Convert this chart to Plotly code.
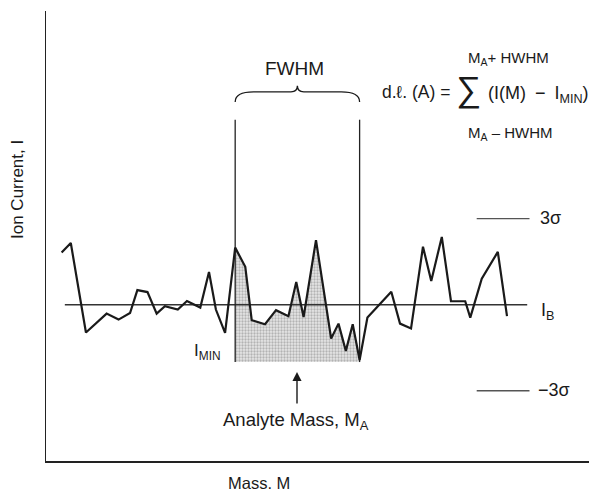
import plotly.graph_objects as go

# ---------------- data (mass units, ion current in units of sigma) ----------------
mass = [3.4, 5.4, 8.7, 13.2, 15.8, 18.3, 19.9, 22.1, 24.1, 25.9, 28.7, 30.7, 33.6, 35.5,
        37.0, 39.0, 41.2, 43.4, 44.8, 47.7, 50.1, 52.8, 54.5, 56.1, 58.8, 62.1, 63.7, 65.3,
        66.8, 68.3, 70.0, 72.8, 75.2, 77.1, 79.5, 82.1, 83.9, 86.2, 88.2, 91.3, 92.4, 94.9,
        98.4, 100.4]
current = [1.82, 2.15, -0.97, -0.31, -0.52, -0.29, 0.51, 0.44, -0.31, -0.05, -0.17, 0.13,
           -0.10, 1.14, -0.17, -0.98, 1.99, 1.32, -0.54, -0.68, -0.19, -0.40, 0.79, -0.43,
           2.25, -1.18, -0.66, -1.61, -0.68, -1.93, -0.45, 0.04, 0.45, -0.66, -0.83, 2.02,
           0.83, 2.36, 0.12, 0.12, -0.45, 0.91, 1.84, -0.40]

window_start = 16   # index of M_A - HWHM
window_end = 29     # index of M_A + HWHM
I_B = 0.0
sigma_levels = [3.0, -3.0]
baseline_extent = [4.1, 104.8]
sigma_extent = [93.8, 105.3]
marker_top = 6.45
x_range = [0, 120.0]
y_range = [-5.45, 10.24]

# ---------------- derived ----------------
wx = mass[window_start:window_end + 1]
wy = current[window_start:window_end + 1]
I_MIN = min(wy) - 0.07
m_lo, m_hi = wx[0], wx[-1]

OFF = 8                      # page body margin
PAGE_W, PAGE_H = 597, 492
W, H = PAGE_W - OFF, PAGE_H - OFF
P_LEFT, P_TOP, P_RIGHT, P_BOTTOM = 46, 11, 597, 461   # plot area in page pixels
ML = P_LEFT - OFF
MT = P_TOP - OFF
MR = PAGE_W - P_RIGHT
MB = PAGE_H - P_BOTTOM
PW, PH = P_RIGHT - P_LEFT, P_BOTTOM - P_TOP

def px(x):
    return (x - P_LEFT) / PW

def py(y):
    return (P_BOTTOM - y) / PH

FONT = "Liberation Sans, Arial, sans-serif"
INK = "#1a1a1a"

fig = go.Figure()

# shaded area
fig.add_trace(go.Scatter(
    x=wx + [m_hi, m_lo], y=wy + [I_MIN, I_MIN], mode="none", fill="toself",
    fillcolor="rgb(205,205,205)",
    fillpattern=dict(shape=".", fgcolor="#808080", bgcolor="#e6e6e6", size=3, solidity=0.45),
    hoverinfo="skip", showlegend=False))

# baseline I_B
fig.add_trace(go.Scatter(x=baseline_extent, y=[I_B, I_B], mode="lines",
                         line=dict(color="#333333", width=1.5), showlegend=False))

# sigma marks
for lv in sigma_levels:
    fig.add_trace(go.Scatter(x=sigma_extent, y=[lv, lv], mode="lines",
                             line=dict(color="#555555", width=1.4), showlegend=False))

# window verticals
for mx in (m_lo, m_hi):
    fig.add_trace(go.Scatter(x=[mx, mx], y=[I_MIN, marker_top], mode="lines",
                             line=dict(color="#222222", width=1.3), showlegend=False))

# noise trace
fig.add_trace(go.Scatter(x=mass, y=current, mode="lines",
                         line=dict(color=INK, width=2.2), showlegend=False))

# brace over the window
y_end, y_mid, y_top = marker_top + 0.62, marker_top + 0.97, marker_top + 1.18
xm = (m_lo + m_hi) / 2
d = 1.4
brace = (f"M {m_lo},{y_end} Q {m_lo},{y_mid} {m_lo + 4},{y_mid} "
         f"L {xm - d},{y_mid} Q {xm},{y_mid} {xm},{y_top} "
         f"Q {xm},{y_mid} {xm + d},{y_mid} L {m_hi - 4},{y_mid} "
         f"Q {m_hi},{y_mid} {m_hi},{y_end}")
fig.add_shape(type="path", path=brace, xref="x", yref="y",
              line=dict(color=INK, width=1.3))

ann = []

def text(x, y, s, size=16, xanchor="center", yanchor="middle", **kw):
    ann.append(dict(x=px(x), y=py(y), xref="paper", yref="paper", text=s, showarrow=False,
                    xanchor=xanchor, yanchor=yanchor,
                    font=dict(family=FONT, size=size, color=INK), **kw))

text(17, 190, "Ion Current, I", size=17, textangle=-90)
text(259, 483, "Mass. M", size=16.5)
text(294, 68, "FWHM", size=19)
text(380, 92, "d.ℓ. (A) =", size=17.5, xanchor="left")
text(468, 89, "∑", size=35)
text(486, 95, "(I(M)\u2002−\u2002I<sub>MIN</sub>)", size=18, xanchor="left")
text(466, 58, "M<sub>A</sub>+ HWHM", size=15, xanchor="left")
text(466, 134, "M<sub>A</sub> – HWHM", size=15, xanchor="left")
text(538, 218, "3σ", size=18, xanchor="left")
text(536, 390, "−3σ", size=18, xanchor="left")
text(539, 311, "I<sub>B</sub>", size=18, xanchor="left")
text(223, 352, "I<sub>MIN</sub>", size=17, xanchor="right")
text(296, 421, "Analyte Mass, M<sub>A</sub>", size=18.5)

# arrow pointing at the analyte mass
ann.append(dict(x=px(297), y=py(372), xref="paper", yref="paper", text="",
                showarrow=True, ax=0, ay=33, arrowhead=2, arrowsize=1.3,
                arrowwidth=1.4, arrowcolor=INK))

fig.update_layout(
    width=W, height=H, margin=dict(l=ML, r=MR, t=MT, b=MB, pad=0),
    paper_bgcolor="white", plot_bgcolor="white",
    annotations=ann,
    xaxis=dict(range=x_range, showgrid=False, zeroline=False, showticklabels=False,
               ticks="", showline=True, linecolor="#222222", linewidth=1.6),
    yaxis=dict(range=y_range, showgrid=False, zeroline=False, showticklabels=False,
               ticks="", showline=True, linecolor="#222222", linewidth=1.4),
    font=dict(family=FONT),
)

fig.write_html("out.html")
